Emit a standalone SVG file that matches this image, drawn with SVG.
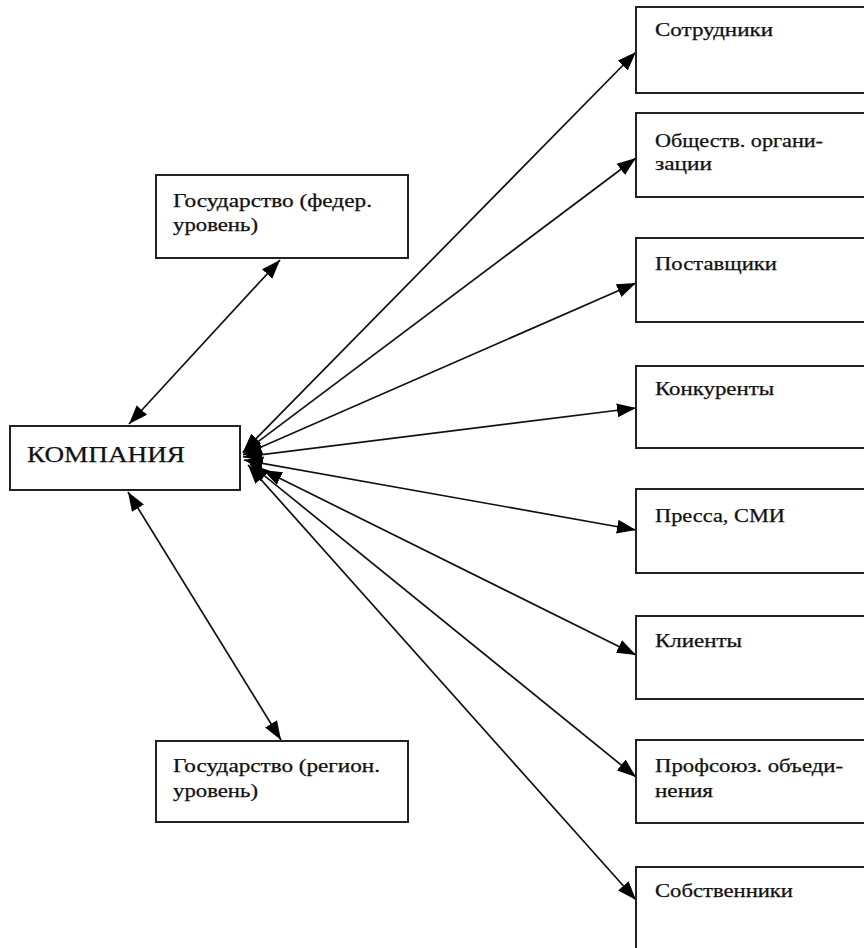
<svg xmlns="http://www.w3.org/2000/svg" width="864" height="948" viewBox="0 0 864 948">
<style>
.box{fill:#fff;stroke:#222;stroke-width:2}
.t{font-family:"Liberation Serif","DejaVu Serif","Times New Roman",serif;font-size:18px;fill:#111;stroke:#111;stroke-width:0.25}
.big{font-size:24px}
.c line{stroke:#111;stroke-width:1.7;marker-start:url(#ah);marker-end:url(#ah)}
</style>
<defs>
<marker id="ah" markerUnits="userSpaceOnUse" markerWidth="20" markerHeight="15" refX="19" refY="7" orient="auto-start-reverse" viewBox="0 0 20 14">
<path d="M0,0 L19,7 L0,14 z" fill="#000"/>
</marker>
</defs>
<rect width="864" height="948" fill="#fff"/>
<g class="c" id="connectors">
<line x1="129" y1="424" x2="280" y2="260"/>
<line x1="128" y1="492" x2="281" y2="740"/>
<line x1="243" y1="452" x2="636" y2="52"/>
<line x1="243" y1="453" x2="636" y2="158"/>
<line x1="243" y1="455" x2="636" y2="283"/>
<line x1="243" y1="457" x2="636" y2="408"/>
<line x1="244" y1="460" x2="636" y2="530"/>
<line x1="263" y1="470" x2="636" y2="655"/>
<line x1="250" y1="464" x2="636" y2="777"/>
<line x1="248" y1="465" x2="636" y2="900"/>
</g>
<g id="company">
<rect class="box" x="10" y="426" width="230" height="64"/>
<text class="t big" font-family="Liberation Serif, serif" x="27" y="462" textLength="158" lengthAdjust="spacingAndGlyphs">КОМПАНИЯ</text>
</g>
<g id="gos-fed">
<rect class="box" x="156" y="175" width="252" height="83"/>
<text class="t" x="173" y="207" textLength="199" lengthAdjust="spacingAndGlyphs">Государство (федер.</text>
<text class="t" x="173" y="231" textLength="85" lengthAdjust="spacingAndGlyphs">уровень)</text>
</g>
<g id="gos-reg">
<rect class="box" x="156" y="741" width="252" height="81"/>
<text class="t" x="173" y="772" textLength="207" lengthAdjust="spacingAndGlyphs">Государство (регион.</text>
<text class="t" x="173" y="797" textLength="85" lengthAdjust="spacingAndGlyphs">уровень)</text>
</g>
<g id="sotrudniki">
<rect class="box" x="636" y="7" width="240" height="86"/>
<text class="t" x="655" y="36" textLength="118" lengthAdjust="spacingAndGlyphs">Сотрудники</text>
</g>
<g id="obshchestv">
<rect class="box" x="636" y="113" width="240" height="84"/>
<text class="t" x="655" y="147" textLength="168" lengthAdjust="spacingAndGlyphs">Обществ. органи-</text>
<text class="t" x="655" y="170" textLength="57" lengthAdjust="spacingAndGlyphs">зации</text>
</g>
<g id="postavshchiki">
<rect class="box" x="636" y="238" width="240" height="84"/>
<text class="t" x="655" y="270" textLength="122" lengthAdjust="spacingAndGlyphs">Поставщики</text>
</g>
<g id="konkurenty">
<rect class="box" x="636" y="366" width="240" height="82"/>
<text class="t" x="655" y="395" textLength="119" lengthAdjust="spacingAndGlyphs">Конкуренты</text>
</g>
<g id="pressa">
<rect class="box" x="636" y="489" width="240" height="84"/>
<text class="t" x="655" y="522" textLength="130" lengthAdjust="spacingAndGlyphs">Пресса, СМИ</text>
</g>
<g id="klienty">
<rect class="box" x="636" y="616" width="240" height="83"/>
<text class="t" x="655" y="647" textLength="87" lengthAdjust="spacingAndGlyphs">Клиенты</text>
</g>
<g id="profsoyuz">
<rect class="box" x="636" y="740" width="240" height="83"/>
<text class="t" x="655" y="772" textLength="188" lengthAdjust="spacingAndGlyphs">Профсоюз. объеди-</text>
<text class="t" x="655" y="797" textLength="58" lengthAdjust="spacingAndGlyphs">нения</text>
</g>
<g id="sobstvenniki">
<rect class="box" x="636" y="867" width="240" height="100"/>
<text class="t" x="655" y="897" textLength="138" lengthAdjust="spacingAndGlyphs">Собственники</text>
</g>
</svg>
